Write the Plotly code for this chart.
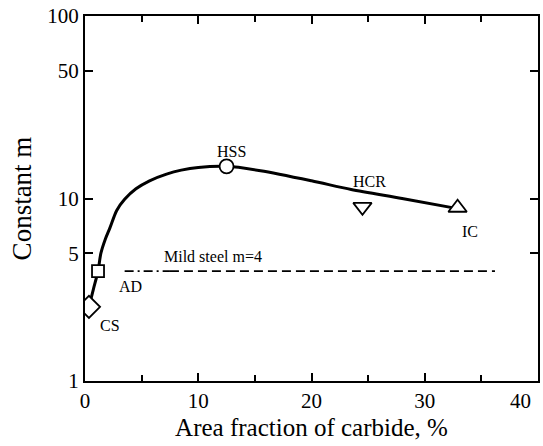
import math
import plotly.graph_objects as go

# Measured points (area fraction of carbide %, constant m)
names = ["CS", "AD", "HSS", "HCR", "IC"]
pt_x = [0.35, 1.15, 12.5, 24.5, 32.9]
pt_y = [2.55, 4.0, 15.0, 9.0, 8.9]
symbols = ["diamond", "square", "circle", "triangle-down", "triangle-up"]

# Fitted trend curve
curve_x = [0.35, 0.75, 1.15, 1.4, 1.8, 2.2, 2.8, 3.5, 4.5, 5.7, 7.2, 8.5, 10.0, 12.5, 15.5, 20.0, 23.5, 28.0, 32.9]
curve_y = [2.55, 3.2, 4.0, 5.0, 6.0, 6.9, 8.6, 9.9, 11.3, 12.5, 13.6, 14.3, 14.8, 15.0, 14.2, 12.5, 11.2, 10.0, 8.8]

# Mild steel reference m = 4
mild_m = 4
mild_dashdot_x = [3.5, 7.5]
mild_dash_x = [7.5, 36.2]

x_ticks = [0, 10, 20, 30, 40]
y_ticks = [1, 5, 10, 50, 100]

FONT = "Liberation Serif"

fig = go.Figure()
fig.add_trace(go.Scatter(x=curve_x, y=curve_y, mode="lines",
                         line=dict(color="black", width=3, shape="spline", smoothing=0.8),
                         hoverinfo="skip", showlegend=False))
fig.add_trace(go.Scatter(x=mild_dashdot_x, y=[mild_m] * 2, mode="lines",
                         line=dict(color="black", width=1.8, dash="9px,4px,2px,4px"),
                         showlegend=False))
fig.add_trace(go.Scatter(x=mild_dash_x, y=[mild_m] * 2, mode="lines",
                         line=dict(color="black", width=1.8, dash="9px,5px"),
                         showlegend=False))
sizes = [17, 12, 14, 16, 16]
for n, x, y, s, sz in zip(names, pt_x, pt_y, symbols, sizes):
    fig.add_trace(go.Scatter(x=[x], y=[y], mode="markers",
                             marker=dict(symbol=s, size=sz, color="white",
                                         line=dict(color="black", width=1.8)),
                             name=n, showlegend=False))

# labels (offsets in px from the markers)
label_off = {"CS": (21, 19), "AD": (32, 15), "HSS": (5, -15), "HCR": (7, -25), "IC": (12, 24)}
for n, x, y in zip(names, pt_x, pt_y):
    dx, dy = label_off[n]
    fig.add_annotation(x=x, y=math.log10(y), text=n, showarrow=False,
                       xshift=dx, yshift=-dy, font=dict(family=FONT, size=16, color="black"))

fig.add_annotation(x=11.3, y=math.log10(mild_m), text="Mild steel m=4",
                   showarrow=False, yshift=15, font=dict(family=FONT, size=16, color="black"))

# last x tick label placed inside the figure edge
fig.add_annotation(x=40, y=0, xref="x", yref="paper", text="40", showarrow=False,
                   xanchor="center", yanchor="top",
                   xshift=-18, yshift=-6, font=dict(family=FONT, size=21, color="black"))

axis_common = dict(showline=True, linecolor="black", linewidth=2, mirror="ticks",
                   ticks="inside", tickcolor="black", tickwidth=2, ticklen=8,
                   showgrid=False, zeroline=False,
                   tickfont=dict(family=FONT, size=21, color="black"))

fig.update_xaxes(range=[0, 40], tickvals=x_ticks, ticktext=["0", "10", "20", "30", ""],
                 minor=dict(tickvals=[5, 15, 25, 35], ticks="inside", ticklen=6,
                            tickcolor="black", tickwidth=2),
                 title=dict(text="Area fraction of carbide, %", font=dict(family=FONT, size=25, color="black"),
                            standoff=6),
                 **axis_common)
fig.update_yaxes(type="log", range=[0, 2], tickvals=y_ticks, ticktext=[str(v) for v in y_ticks],
                 title=dict(text="Constant m", font=dict(family=FONT, size=27, color="black"),
                            standoff=8),
                 **axis_common)

fig.update_layout(width=543, height=446, margin=dict(l=85, r=3, t=16, b=65),
                  plot_bgcolor="white", paper_bgcolor="white")

fig.write_html("out.html")
